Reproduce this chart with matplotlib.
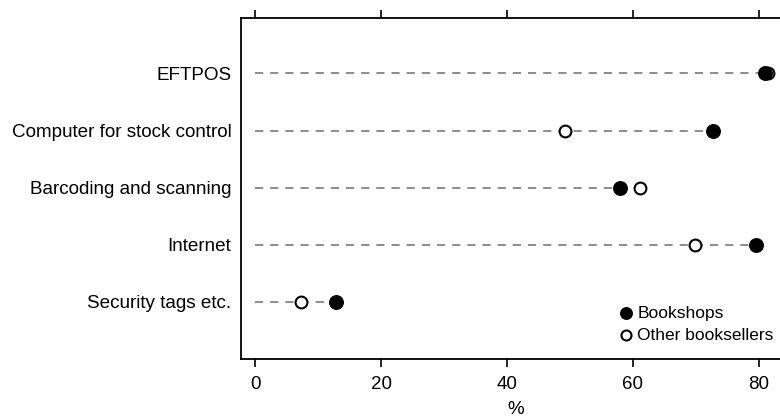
import matplotlib.pyplot as plt

categories = ['EFTPOS', 'Computer for stock control', 'Barcoding and scanning',
              'Internet', 'Security tags etc.']
bookshops = [81.0, 72.8, 58.0, 79.6, 12.8]
other_sellers = [81.5, 49.2, 61.2, 69.9, 7.3]
xticks = [0, 20, 40, 60, 80]

plt.rcParams['font.family'] = ['Liberation Sans', 'DejaVu Sans']

fig = plt.figure(figsize=(7.8, 4.17), dpi=100)
ax = fig.add_axes([241 / 780, 58 / 417, 549 / 780, 341 / 417])

ypos = list(range(len(categories) - 1, -1, -1))
for y, b, o in zip(ypos, bookshops, other_sellers):
    ax.plot([0, max(b, o)], [y, y], color='#8c8c8c', lw=1.4, dashes=(4.2, 3.6), zorder=1)

ax.scatter(other_sellers, ypos, s=72, facecolor='white', edgecolor='black',
           linewidth=1.5, zorder=2, label='Other booksellers')
ax.scatter(bookshops, ypos, s=95, facecolor='black', edgecolor='black',
           zorder=3, label='Bookshops')

ax.set_xlim(-2.3, 85)
ax.set_ylim(-1, 4.97)
ax.set_yticks(ypos)
ax.set_yticklabels(categories, fontsize=13.6)
ax.tick_params(axis='y', length=0, pad=7)
ax.set_xticks(xticks)
ax.tick_params(axis='x', top=True, bottom=True, direction='out', length=6,
               width=1.2, labelsize=13.5, pad=6)
ax.set_xlabel('%', fontsize=13.5, labelpad=6)
ax.spines['right'].set_visible(False)
for s in ['left', 'top', 'bottom']:
    ax.spines[s].set_linewidth(1.3)

h, l = ax.get_legend_handles_labels()
ax.legend(h[::-1], l[::-1], loc='upper left', bbox_to_anchor=(607 / 780, 1 - 297 / 417),
          bbox_transform=fig.transFigure, frameon=False, fontsize=12.5,
          markerscale=0.85, handletextpad=0.05, labelspacing=0.38,
          handlelength=1.2, borderpad=0)

fig.savefig('out.png', dpi=100)
